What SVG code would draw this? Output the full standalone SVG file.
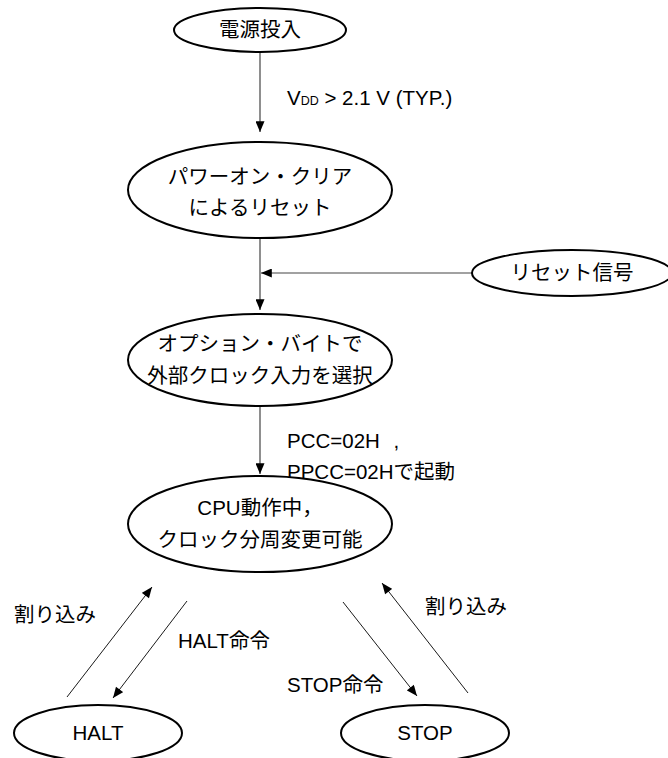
<svg xmlns="http://www.w3.org/2000/svg" width="668" height="758" viewBox="0 0 668 758">
<defs>
<marker id="ah" viewBox="0 0 12 10" refX="12" refY="5" markerWidth="12" markerHeight="9" markerUnits="userSpaceOnUse" orient="auto">
<path d="M0,0 L12,5 L0,10 Z" fill="#000"/>
</marker>
<style>
.n{fill:#fff;stroke:#000;stroke-width:2}
.t{font-family:"Liberation Sans","Noto Sans CJK JP",sans-serif;font-size:20.5px;fill:#000;text-anchor:middle}
.l{font-family:"Liberation Sans","Noto Sans CJK JP",sans-serif;font-size:20.5px;fill:#000}
.v{stroke:#444;stroke-width:1.2;fill:none;marker-end:url(#ah)}
.d{stroke:#000;stroke-width:0.9;fill:none;marker-end:url(#ah)}
</style>
</defs>
<rect width="668" height="758" fill="#fff"/>
<g id="connectors">
<line class="v" x1="260" y1="52" x2="260" y2="132"/>
<line class="v" x1="260" y1="238" x2="260" y2="310"/>
<line class="v" x1="472" y1="273" x2="261" y2="273"/>
<line class="v" x1="260" y1="406" x2="260" y2="474"/>
<line class="d" x1="67" y1="697" x2="152" y2="587"/>
<line class="d" x1="187" y1="601" x2="113" y2="698"/>
<line class="d" x1="343" y1="602" x2="417" y2="696"/>
<line class="d" x1="468" y1="693" x2="382" y2="583"/>
</g>
<g id="labels">
<text class="l" x="287" y="105">V<tspan font-size="12.5">DD</tspan> &gt; 2.1 V (TYP.)</text>
<text class="l" x="287" y="448">PCC=02H <tspan dx="8">,</tspan></text>
<text class="l" x="287" y="479">PPCC=02Hで起動</text>
<text class="l" x="14" y="622">割り込み</text>
<text class="l" x="178" y="648">HALT命令</text>
<text class="l" x="287" y="692">STOP命令</text>
<text class="l" x="425" y="614">割り込み</text>
</g>
<g id="power-on">
<ellipse class="n" cx="260" cy="30" rx="86" ry="22"/>
<text class="t" x="260" y="37">電源投入</text>
</g>
<g id="power-on-clear">
<ellipse class="n" cx="260" cy="190" rx="132" ry="48"/>
<text class="t" x="260" y="184">パワーオン・クリア</text>
<text class="t" x="260" y="215">によるリセット</text>
</g>
<g id="reset-signal">
<ellipse class="n" cx="572" cy="273" rx="100" ry="23"/>
<text class="t" x="572" y="280">リセット信号</text>
</g>
<g id="option-byte">
<ellipse class="n" cx="260" cy="360" rx="132" ry="46"/>
<text class="t" x="260" y="351">オプション・バイトで</text>
<text class="t" x="260" y="383">外部クロック入力を選択</text>
</g>
<g id="cpu-running">
<ellipse class="n" cx="260" cy="524" rx="132" ry="48"/>
<text class="t" x="260" y="515">CPU動作中，</text>
<text class="t" x="260" y="547">クロック分周変更可能</text>
</g>
<g id="halt">
<ellipse class="n" cx="98" cy="733" rx="84" ry="28"/>
<text class="t" x="98" y="740">HALT</text>
</g>
<g id="stop">
<ellipse class="n" cx="425" cy="733" rx="84" ry="28"/>
<text class="t" x="425" y="740">STOP</text>
</g>
</svg>
